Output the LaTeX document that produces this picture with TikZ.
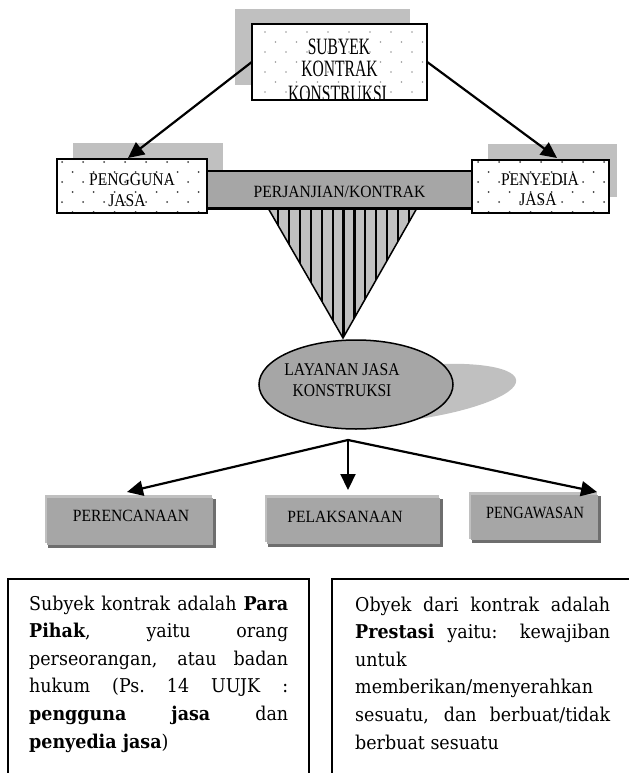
\documentclass[tikz,border=0pt]{standalone}
\usepackage{fontspec}
\usepackage{graphicx}
\setmainfont{Liberation Serif}
\newfontfamily\bodyfont[FakeStretch=0.92]{DejaVu Serif}
\usetikzlibrary{arrows.meta,shapes.geometric}
\definecolor{boxgray}{HTML}{A6A6A6}
\definecolor{shadowgray}{HTML}{C0C0C0}
\definecolor{bevelgray}{HTML}{6E6E6E}
\definecolor{dotgray}{HTML}{9A9A9A}
\definecolor{dotdark}{HTML}{404040}
\tikzset{
  lbl/.style={inner sep=0pt, anchor=base, font=\fontsize{15.6}{18}\selectfont},
  conn/.style={line width=2.2pt, -{Triangle[length=16pt,width=15pt]}},
  plainbox/.style={inner sep=0pt, draw=none},
  bodytext/.style={inner sep=0pt, anchor=base west},
}
\newcommand{\Tall}[2]{\scalebox{1}[#1]{#2}}
\newcommand{\BodySet}{\bodyfont\fontsize{19}{27.6}\selectfont\hyphenpenalty=10000 \exhyphenpenalty=10000 \tolerance=10000 \emergencystretch=20pt}
\begin{document}
\begin{tikzpicture}[x=1pt,y=-1pt]
\useasboundingbox (0,0) rectangle (629,773);

% ---------- top box ----------
\fill[shadowgray] (235,9) rectangle (410,85);
\node[plainbox, fill=white, minimum width=175pt, minimum height=76pt] (top) at (339.5,62) {};
\begin{scope}
  \clip (253,25) rectangle (426,99);
  \foreach \r in {0,...,7} \foreach \c in {0,...,8}
    \fill[dotgray] ({265+\c*21+mod(\r,2)*10.5},{32+\r*10}) circle (0.9pt);
  \node[lbl] (t1) at (339,55) {\Tall{1.5}{SUBYEK}};
  \node[lbl] (t2) at (339.5,76.5) {\Tall{1.5}{KONTRAK}};
  \node[lbl] (t3) at (337.5,102) {\Tall{1.5}{KONSTRUKSI}};
\end{scope}
\draw[line width=2pt] (top.north west) rectangle (top.south east);

% ---------- side boxes ----------
\fill[shadowgray] (73,143) rectangle (223,197);
\fill[shadowgray] (488,144) rectangle (617,197);

\node[plainbox, fill=boxgray, draw=black, line width=1.5pt, minimum width=265pt, minimum height=37pt] (bar) at (339.5,189.5) {};

% triangle with stripes
\coordinate (tl) at (268,208);
\coordinate (tr) at (417,208);
\coordinate (apex) at (343,338);
\fill[shadowgray] (tl) -- (tr) -- (apex) -- cycle;
\begin{scope}
  \clip (tl) -- (tr) -- (apex) -- cycle;
  \foreach \k in {0,...,12} \draw[line width=2.2pt] ({278+\k*10.92},200) -- ++(0,150);
\end{scope}
\draw[line width=1.5pt, line join=miter] (tl) -- (apex) -- (tr);
\draw[line width=1.5pt] (bar.north west) rectangle (bar.south east);
\node[lbl] (perj) at (339.5,197) {\Tall{1.1}{PERJANJIAN/KONTRAK}};

% pengguna box
\node[plainbox, fill=white, minimum width=150pt, minimum height=54pt] (pengguna) at (132,186) {};
\begin{scope}
  \clip (58,160) rectangle (206,212);
  \foreach \r in {0,...,5} \foreach \c in {0,...,7}
    \fill[dotdark] ({62+\c*21+mod(\r,2)*10.5},{162+\r*10}) circle (1pt);
\end{scope}
\draw[line width=2pt] (pengguna.north west) rectangle (pengguna.south east);
\node[lbl] (pg1) at (132,185) {\Tall{1.15}{PENGGUNA}};
\node[lbl] (pg2) at (127,206) {\Tall{1.15}{JASA}};

% penyedia box
\node[plainbox, fill=white, minimum width=137pt, minimum height=53pt] (penyedia) at (540.5,186.5) {};
\begin{scope}
  \clip (473,161) rectangle (608,212);
  \foreach \r in {0,...,5} \foreach \c in {0,...,7}
    \fill[dotdark] ({478+\c*21+mod(\r,2)*10.5},{162+\r*10}) circle (1pt);
\end{scope}
\draw[line width=2pt] (penyedia.north west) rectangle (penyedia.south east);
\node[lbl] (py1) at (540,185) {\Tall{1.15}{PENYEDIA}};
\node[lbl] (py2) at (538,205) {\Tall{1.15}{JASA}};

% top arrows
\coordinate (tipL) at (128,158);
\coordinate (tipR) at (557,158);
\draw[conn] (top.west) -- (tipL);
\draw[conn] (top.east) -- (tipR);

% ---------- ellipse ----------
\fill[shadowgray, rotate around={7:(402,394)}] (402,394) ellipse [x radius=115pt, y radius=27pt];
\node[ellipse, fill=boxgray, draw=black, line width=1.5pt, inner sep=0pt, minimum width=194pt, minimum height=89pt] (layanan) at (356,384.5) {};
\node[lbl] (ly1) at (342,375) {\Tall{1.15}{LAYANAN JASA}};
\node[lbl] (ly2) at (342,396) {\Tall{1.15}{KONSTRUKSI}};

% ---------- bottom boxes ----------
\fill[bevelgray] (48,499) rectangle (216,548);
\fill[shadowgray] (45,495) rectangle (212,543);
\node[plainbox, fill=boxgray, anchor=north west, minimum width=166pt, minimum height=47pt] (perenc) at (47,498) {};
\node[lbl] (pr) at (131,521) {\Tall{1.1}{PERENCANAAN}};

\fill[bevelgray] (268,499) rectangle (443,547);
\fill[shadowgray] (265,495) rectangle (439,542);
\node[plainbox, fill=boxgray, anchor=north west, minimum width=173pt, minimum height=46pt] (pelak) at (267,498) {};
\node[lbl] (pl) at (345,522) {\Tall{1.1}{PELAKSANAAN}};

\fill[bevelgray] (472,496) rectangle (601,543);
\fill[shadowgray] (469,492) rectangle (597,539);
\node[plainbox, fill=boxgray, anchor=north west, minimum width=127pt, minimum height=45pt] (pengaw) at (471,495) {};
\node[lbl] (pw) at (535,518) {\scalebox{0.92}[1.1]{PENGAWASAN}};

% bottom arrows
\coordinate (J) at (348,440);
\coordinate (tipB1) at (127,492);
\coordinate (tipB2) at (348,490);
\coordinate (tipB3) at (597,492);
\draw[conn] (J) -- (tipB1);
\draw[conn] (J) -- (tipB2);
\draw[conn] (J) -- (tipB3);

% ---------- text boxes ----------
\coordinate (lb1) at (8,773);
\coordinate (lb2) at (309,773);
\coordinate (rb1) at (332,773);
\draw[line width=1.5pt] (lb1) |- (160,579) -| (lb2);
\draw[line width=1.5pt] (rb1) |- (629,579);

\node[bodytext] (subjtext) at (29,610) {\parbox[t]{259pt}{\BodySet
Subyek kontrak adalah \textbf{Para}\linebreak
\textbf{Pihak}, yaitu orang\linebreak
perseorangan, atau badan\linebreak
hukum (Ps.\ 14 UUJK :\linebreak
\textbf{pengguna} \textbf{jasa} dan\linebreak
\textbf{penyedia jasa})}};

\node[bodytext] (objtext) at (355,611) {\parbox[t]{255pt}{\BodySet
Obyek dari kontrak adalah\linebreak
\textbf{Prestasi} yaitu: kewajiban\linebreak
untuk\linebreak
memberikan/menyerahkan\linebreak
sesuatu, dan berbuat/tidak\linebreak
berbuat sesuatu}};
\end{tikzpicture}
\end{document}
